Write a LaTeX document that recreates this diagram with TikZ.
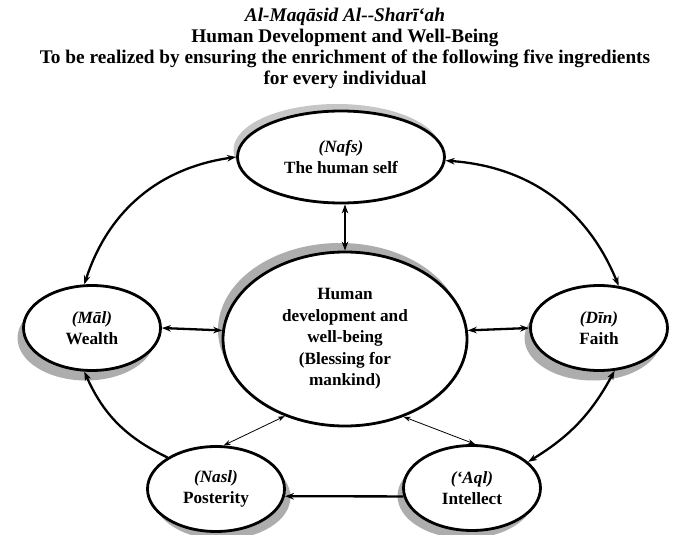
\documentclass[tikz,border=0pt]{standalone}
\usepackage{fontspec}
\setmainfont{Liberation Serif}
\usetikzlibrary{shapes.geometric,shadows,arrows.meta}
\definecolor{shade}{gray}{0.68}

\begin{document}
\begin{tikzpicture}[x=1pt,y=-1pt,>={Stealth[length=9pt,width=6.5pt]},
		goal node/.style={ellipse,draw,line width=2.8pt,fill=white,inner sep=0pt,align=center,
			font=\fontsize{17.2}{21.5}\selectfont\bfseries},
		small goal/.style={goal node,minimum width=137pt,minimum height=85pt},
		link/.style={<->,line width=2.3pt},
		thin link/.style={<->,line width=0.8pt,>={Stealth[length=7pt,width=5pt]}}]
	\useasboundingbox (0,0) rectangle (673,535);

	\node[align=center,font=\fontsize{19.3}{21}\selectfont\bfseries] (title) at (345,48)
		{\textit{Al-Maqāsid Al-{}-Sharī‘ah}\\
		Human Development and Well-Being\\
		To be realized by ensuring the enrichment of the following five ingredients\\
		for every individual};

	\node[goal node,minimum width=244pt,minimum height=174pt,
		drop shadow={shadow xshift=-5pt,shadow yshift=9pt,fill=shade,opacity=1}] (hd) at (345,339)
		{Human\\ development and\\ well-being\\ (Blessing for\\ mankind)};
	\node[goal node,minimum width=207pt,minimum height=92pt,
		drop shadow={shadow xshift=-4pt,shadow yshift=7pt,fill=shade!70,opacity=1}] (nafs) at (341,157)
		{\textit{(Nafs)}\\ The human self};
	\node[small goal,drop shadow={shadow xshift=-6pt,shadow yshift=-10pt,fill=shade,opacity=1}] (mal) at (92,328)
		{\textit{(Māl)}\\ Wealth};
	\node[small goal,drop shadow={shadow xshift=-6pt,shadow yshift=-10pt,fill=shade,opacity=1}] (din) at (599,328)
		{\textit{(Dīn)}\\ Faith};
	\node[small goal,drop shadow={shadow xshift=6pt,shadow yshift=-8pt,fill=shade,opacity=1}] (nasl) at (216,489)
		{\textit{(Nasl)}\\ Posterity};
	\node[small goal,drop shadow={shadow xshift=-6pt,shadow yshift=-8pt,fill=shade,opacity=1}] (aql) at (472,488)
		{\textit{(‘Aql)}\\ Intellect};

	% links to the centre
	\draw[link] (hd.north |- nafs.south) -- (hd.north);
	\draw[link] (mal.east) -- (hd.176);
	\draw[link] (hd.4) -- (din.west);
	\draw[thin link] (hd.-128) -- (nasl.80);
	\draw[thin link] (hd.-53) -- (aql.86);

	% outer ring
	\draw[link] (mal.100) to[bend left=32] (nafs.180);
	\draw[link] (nafs.-2) to[bend left=32] (din.65);
	\draw[link] (din.-70) to[bend left=15] (aql.25);
	\draw[->,line width=2.3pt] (aql.187) -- (nasl.-6);
	\draw[->,line width=2.3pt] (nasl.147) to[bend left=20] (mal.-100);
\end{tikzpicture}
\end{document}
